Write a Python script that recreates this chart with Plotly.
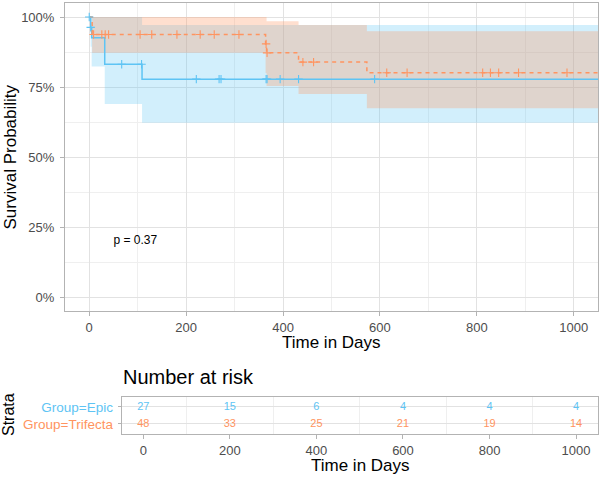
import plotly.graph_objects as go

# ---------------- data ----------------
# Kaplan-Meier step values
epic_time = [0, 3, 5, 32, 109, 1050]
epic_surv = [1.0, 0.963, 0.926, 0.831, 0.778, 0.778]
epic_lower = [1.0, 0.894, 0.823, 0.689, 0.622, 0.622]
epic_upper = [1.0, 1.0, 1.0, 1.0, 0.971, 0.971]
epic_censor = [0, 3, 67, 108, 221, 268, 272, 365, 367, 394, 432, 589]

trif_time = [0, 6, 364, 366, 432, 573, 1050]
trif_surv = [1.0, 0.9375, 0.904, 0.872, 0.839, 0.801, 0.801]
trif_lower = [1.0, 0.872, 0.80, 0.754, 0.725, 0.674, 0.674]
trif_upper = [1.0, 1.0, 1.0, 0.985, 0.971, 0.949, 0.949]
trif_censor = [9, 26, 33, 40, 105, 129, 181, 229, 258, 309, 365, 367,
               441, 463, 614, 656, 812, 828, 845, 886, 986]

risk_times = [0, 200, 400, 600, 800, 1000]
epic_risk = [27, 15, 6, 4, 4, 4]
trif_risk = [48, 33, 25, 21, 19, 14]

strata = ["Group=Trifecta", "Group=Epic"]
y_ticks = [0, 0.25, 0.5, 0.75, 1.0]
y_ticktext = ["0%", "25%", "50%", "75%", "100%"]
x_ticks = [0, 200, 400, 600, 800, 1000]
p_text = "p = 0.37"

# ---------------- styles ----------------
W, H = 600, 477
FONT = "Liberation Sans, Arial, Helvetica, sans-serif"
BLUE = "#5EC4F4"
ORANGE = "#FF9460"
BLUE_FILL = "rgba(94,196,244,0.28)"
ORANGE_FILL = "rgba(255,148,96,0.30)"
BORDER = "#B3B3B3"
GRID = "#E2E2E2"
MINOR = "#EFEFEF"
TICKC = "#4D4D4D"


def px(x):
    return x / W


def py(y):
    return 1 - y / H


def level(times, surv, t):
    v = surv[0]
    for ti, si in zip(times, surv):
        if ti <= t:
            v = si
    return v


fig = go.Figure()

# confidence bands
for times, lo, up, fc in [(epic_time, epic_lower, epic_upper, BLUE_FILL),
                          (trif_time, trif_lower, trif_upper, ORANGE_FILL)]:
    fig.add_trace(go.Scatter(x=times, y=lo, mode="lines", line=dict(width=0, shape="hv"),
                             hoverinfo="skip", xaxis="x", yaxis="y"))
    fig.add_trace(go.Scatter(x=times, y=up, mode="lines", line=dict(width=0, shape="hv"),
                             fill="tonexty", fillcolor=fc, hoverinfo="skip",
                             xaxis="x", yaxis="y"))

# survival curves
fig.add_trace(go.Scatter(x=epic_time, y=epic_surv, mode="lines",
                         line=dict(color=BLUE, width=1.5, shape="hv"), xaxis="x", yaxis="y"))
fig.add_trace(go.Scatter(x=trif_time, y=trif_surv, mode="lines",
                         line=dict(color=ORANGE, width=1.5, shape="hv", dash="4px,4px"),
                         xaxis="x", yaxis="y"))

# censor marks
fig.add_trace(go.Scatter(x=epic_censor, y=[level(epic_time, epic_surv, t) for t in epic_censor],
                         mode="markers",
                         marker=dict(symbol="cross-thin", size=6, line=dict(color=BLUE, width=1.1)),
                         xaxis="x", yaxis="y"))
fig.add_trace(go.Scatter(x=trif_censor, y=[level(trif_time, trif_surv, t) for t in trif_censor],
                         mode="markers",
                         marker=dict(symbol="cross-thin", size=6, line=dict(color=ORANGE, width=1.1)),
                         xaxis="x", yaxis="y"))

# p value
fig.add_trace(go.Scatter(x=[50], y=[0.2], mode="text", text=[p_text], textposition="middle right",
                         textfont=dict(family=FONT, size=12, color="black"),
                         xaxis="x", yaxis="y"))

# risk table numbers
fig.add_trace(go.Scatter(x=risk_times, y=[2] * len(risk_times), mode="text",
                         text=[str(v) for v in epic_risk],
                         textfont=dict(family=FONT, size=11, color=BLUE),
                         xaxis="x2", yaxis="y2", cliponaxis=False))
fig.add_trace(go.Scatter(x=risk_times, y=[1] * len(risk_times), mode="text",
                         text=[str(v) for v in trif_risk],
                         textfont=dict(family=FONT, size=11, color=ORANGE),
                         xaxis="x2", yaxis="y2", cliponaxis=False))

axis_common = dict(showline=True, linecolor=BORDER, linewidth=1, mirror=True,
                   ticks="outside", ticklen=4, tickcolor=BORDER, tickwidth=1,
                   tickfont=dict(family=FONT, size=13, color=TICKC),
                   zeroline=False)

fig.update_layout(
    width=W, height=H, margin=dict(l=0, r=0, t=0, b=0),
    paper_bgcolor="white", plot_bgcolor="white", showlegend=False,
    xaxis=dict(domain=[px(65), px(598)], range=[-50, 1050], anchor="y",
               tickvals=x_ticks, showgrid=True, gridcolor=GRID, gridwidth=1,
               minor=dict(tick0=100, dtick=200, showgrid=True, gridcolor=MINOR, gridwidth=1, ticks=""),
               **axis_common),
    yaxis=dict(domain=[py(311), py(3)], range=[-0.05, 1.05], anchor="x",
               tickvals=y_ticks, ticktext=y_ticktext, showgrid=True, gridcolor=GRID, gridwidth=1,
               minor=dict(tick0=0.125, dtick=0.25, showgrid=True, gridcolor=MINOR, gridwidth=1, ticks=""),
               ticklabelstandoff=3,
               **axis_common),
    xaxis2=dict(domain=[px(121.7), px(597.7)], range=[-50, 1050], anchor="y2",
                tickvals=x_ticks, showgrid=False,
                minor=dict(tick0=100, dtick=200, showgrid=True, gridcolor=MINOR, gridwidth=1, ticks=""),
                **axis_common),
    yaxis2=dict(domain=[py(434), py(396.7)], range=[0.4, 2.6], anchor="x2",
                tickvals=[1, 2],
                ticktext=[f'<span style="color:{ORANGE}">{strata[0]}</span>',
                          f'<span style="color:{BLUE}">{strata[1]}</span>'],
                showgrid=True, gridcolor=GRID, gridwidth=1, ticklabelstandoff=2,
                **{**axis_common, "tickfont": dict(family=FONT, size=13.5, color=TICKC), "ticklen": 3}),
)

ann = [
    dict(text="Survival Probability", x=px(9.5), y=py(157), textangle=-90, size=17),
    dict(text="Time in Days", x=px(331.5), y=py(342.7), textangle=0, size=17),
    dict(text="Strata", x=px(8), y=py(415), textangle=-90, size=16),
    dict(text="Time in Days", x=px(360), y=py(465), textangle=0, size=17),
]
for a in ann:
    fig.add_annotation(text=a["text"], x=a["x"], y=a["y"], xref="paper", yref="paper",
                       showarrow=False, textangle=a["textangle"], xanchor="center", yanchor="middle",
                       font=dict(family=FONT, size=a["size"], color="black"))
fig.add_annotation(text="Number at risk", x=px(121), y=py(376.7), xref="paper", yref="paper",
                   showarrow=False, xanchor="left", yanchor="middle",
                   font=dict(family=FONT, size=20, color="black"))

fig.write_html("out.html")
